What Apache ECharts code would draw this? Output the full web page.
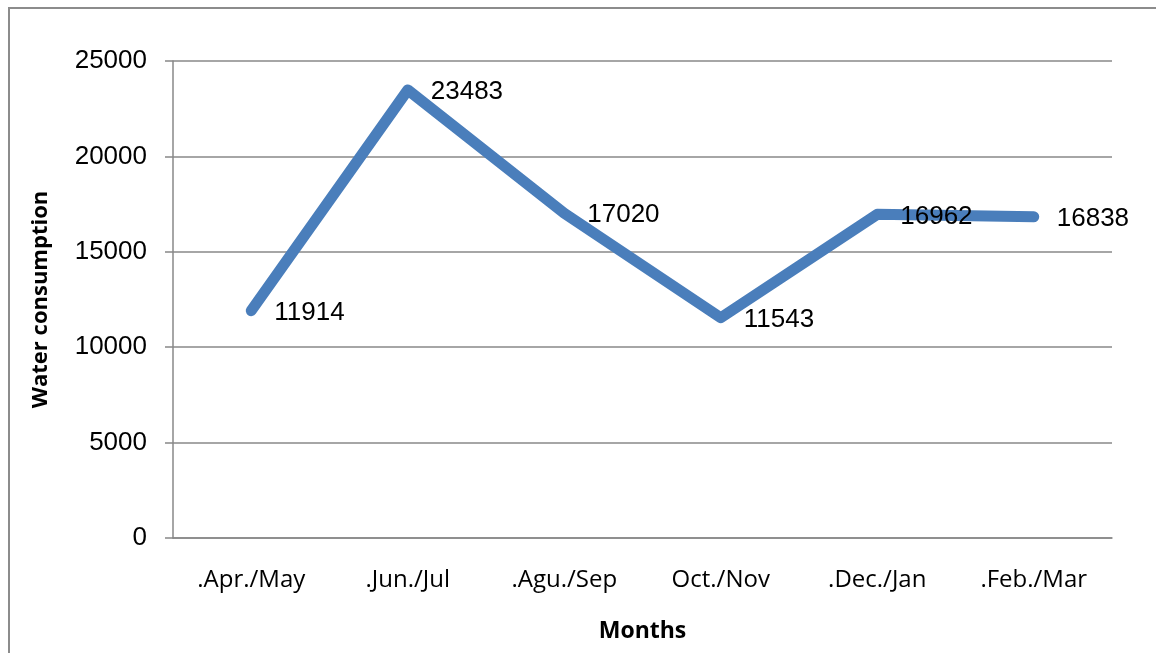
<!DOCTYPE html>
<html>
<head>
<meta charset="utf-8">
<script src="https://cdn.jsdelivr.net/npm/echarts@6/dist/echarts.min.js"></script>
<style>
    html, body { margin: 0; padding: 0; background: #fff; }
    #chart { width: 1156px; height: 653px; }
</style>
</head>
<body>
<div id="chart"></div>
<script>
// chart data
var months = ['.Apr./May', '.Jun./Jul', '.Agu./Sep', 'Oct./Nov', '.Dec./Jan', '.Feb./Mar']
var consumption = [11914, 23483, 17020, 11543, 16962, 16838]
var yTicks = [0, 5000, 10000, 15000, 20000, 25000]

var myChart = echarts.init(document.getElementById('chart'))
var options = {
    animation: false,
    graphic: [
        {
            type: 'rect',
            shape: { x: 9, y: 8, width: 1160, height: 660 },
            style: { fill: 'none', stroke: '#8c8c8c', lineWidth: 2 }
        }
    ],
    grid: {
        left: 173,
        right: 44,
        top: 61,
        bottom: 115
    },
    xAxis: {
        type: 'category',
        data: months,
        boundaryGap: true,
        name: 'Months',
        nameLocation: 'middle',
        nameGap: 82,
        nameTextStyle: {
            fontFamily: 'Open Sans',
            fontWeight: 'bold',
            fontSize: 23,
            color: '#000'
        },
        axisLine: { lineStyle: { color: '#888', width: 1.5 } },
        axisTick: { show: false },
        axisLabel: {
            margin: 30,
            fontFamily: 'Open Sans',
            fontSize: 24,
            color: '#000'
        }
    },
    yAxis: {
        type: 'value',
        min: yTicks[0],
        max: yTicks[yTicks.length - 1],
        interval: yTicks[1] - yTicks[0],
        name: 'Water consumption',
        nameLocation: 'middle',
        nameGap: 121,
        nameTextStyle: {
            fontFamily: 'Open Sans',
            fontWeight: 'bold',
            fontSize: 22,
            color: '#000'
        },
        axisLine: { show: true, lineStyle: { color: '#888', width: 1.5 } },
        axisTick: { show: true, length: 8, lineStyle: { color: '#888', width: 1.5 } },
        axisLabel: {
            margin: 26,
            fontFamily: 'Liberation Sans',
            fontSize: 26,
            color: '#000',
            formatter: function (v) { return String(v) }
        },
        splitLine: { show: true, lineStyle: { color: '#888', width: 1.5 } }
    },
    series: [
        {
            type: 'line',
            data: consumption,
            symbol: 'circle',
            symbolSize: 2,
            showSymbol: true,
            showAllSymbol: true,
            itemStyle: { color: '#4a7ebb', borderWidth: 0 },
            lineStyle: { color: '#4a7ebb', width: 11, cap: 'round', join: 'round' },
            label: {
                show: true,
                position: 'right',
                distance: 22,
                offset: [0, 2],
                fontFamily: 'Liberation Sans',
                fontSize: 26,
                color: '#000'
            }
        }
    ]
}
myChart.setOption(options)
window.addEventListener('resize', myChart.resize)
</script>
</body>
</html>
